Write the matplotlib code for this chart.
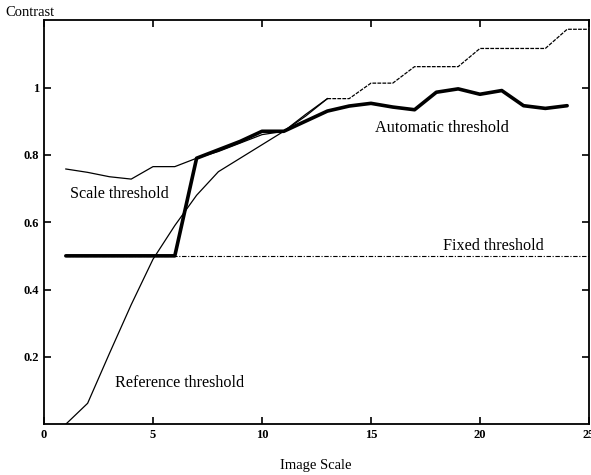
import numpy as np
import matplotlib.pyplot as plt

plt.rcParams['font.family'] = ['Liberation Serif', 'DejaVu Serif']

# image scale 1..25
scale = [1, 2, 3, 4, 5, 6, 7, 8, 9, 10, 11, 12, 13, 14, 15, 16, 17, 18, 19, 20, 21, 22, 23, 24, 25]

scale_thr = [0.758, 0.748, 0.735, 0.728, 0.765, 0.765, 0.79, 0.81, 0.835, 0.86, 0.87, 0.92, 0.967,
             0.967, 1.013, 1.013, 1.062, 1.062, 1.062, 1.116, 1.116, 1.116, 1.116, 1.173, 1.173]

ref_thr = [0.0, 0.062, 0.21, 0.355, 0.49, 0.59, 0.68, 0.75, 0.79, 0.83, 0.87, 0.915, 0.967]

auto_thr = [0.5, 0.5, 0.5, 0.5, 0.5, 0.5, 0.79, 0.815, 0.84, 0.87, 0.87, 0.90, 0.93, 0.945,
            0.953, 0.942, 0.934, 0.986, 0.996, 0.98, 0.991, 0.946, 0.938, 0.946]

fixed_scale = [1, 25]
fixed_thr = [0.5, 0.5]

fig = plt.figure(figsize=(5.91, 4.75), dpi=100)
ax = fig.add_axes([0.0745, 0.107, 0.922, 0.8505])

# scale threshold: solid where it stands alone, dashed where it overlaps the reference curve
ax.plot(scale[:13], scale_thr[:13], color='black', lw=0.9)
ax.plot(scale[12:], scale_thr[12:], color='black', lw=0.9, ls=(0, (3, 1)))
ax.plot(scale[:len(ref_thr)], ref_thr, color='black', lw=0.9)
ax.plot(fixed_scale, fixed_thr, color='black', lw=0.8, ls=(0, (4, 1.5, 1, 1.5)))
ax.plot(scale[:len(auto_thr)], auto_thr, color='black', lw=2.6,
        solid_joinstyle='round', solid_capstyle='round')

ax.set_xlim(0, 25)
ax.set_ylim(0, 1.2)
ax.set_xticks([0, 5, 10, 15, 20, 25])
ax.set_yticks([0.2, 0.4, 0.6, 0.8, 1.0])
ax.set_yticklabels(['0.2', '0.4', '0.6', '0.8', '1'])
ax.tick_params(direction='in', length=5, width=1.2, top=True, right=True, labelsize=9)
for lab in ax.get_xticklabels() + ax.get_yticklabels():
    lab.set_fontweight('bold')
for sp in ax.spines.values():
    sp.set_linewidth(1.3)

ax.text(1.2, 0.684, 'Scale threshold', fontsize=11.6, va='center')
ax.text(15.2, 0.88, 'Automatic threshold', fontsize=11.7, va='center')
ax.text(18.3, 0.53, 'Fixed threshold', fontsize=11.6, va='center')
ax.text(3.25, 0.122, 'Reference threshold', fontsize=11.6, va='center')

fig.text(5 / 591, 1 - 12 / 475, 'Contrast', fontsize=10.5, va='center')
fig.text(316 / 591, 1 - 465 / 475, 'Image Scale', fontsize=10.5, va='center', ha='center')

fig.savefig('out.png', dpi=100)
